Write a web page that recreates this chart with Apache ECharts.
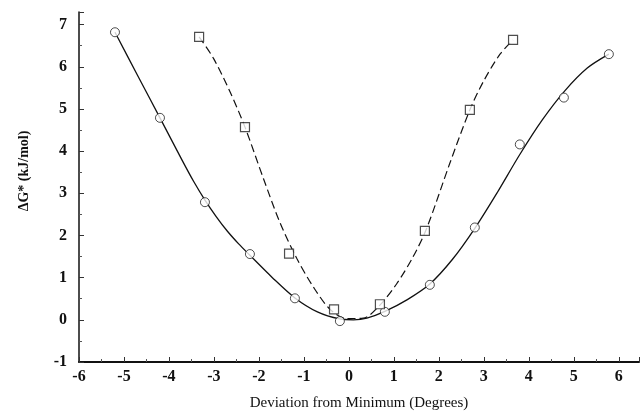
<!DOCTYPE html>
<html>
<head>
<meta charset="utf-8">
<script src="https://cdn.jsdelivr.net/npm/echarts@6/dist/echarts.min.js"></script>
<style>
  html,body{margin:0;padding:0;background:#fff;}
  #chart{width:640px;height:413px;}
</style>
</head>
<body>
<div id="chart"></div>
<script>
// measured points (open circles / open squares)
const circlePts = [[-5.2,6.82],[-4.2,4.79],[-3.2,2.79],[-2.2,1.56],[-1.2,0.51],[-0.2,-0.03],[0.8,0.19],[1.8,0.83],[2.8,2.19],[3.8,4.16],[4.78,5.27],[5.78,6.3]]
const squarePts = [[-3.33,6.71],[-2.31,4.57],[-1.33,1.57],[-0.33,0.25],[0.69,0.37],[1.69,2.11],[2.69,4.98],[3.65,6.64]]

// fitted curves
const solidCurve = [[-5.2,6.82],[-4.7,5.8],[-4.2,4.79],[-3.7,3.77],[-3.45,3.28],[-3.2,2.84],[-2.95,2.45],[-2.7,2.1],[-2.45,1.8],[-2.2,1.53],[-1.7,1.0],[-1.2,0.52],[-0.7,0.19],[-0.2,0.02],[0.1,0],[0.4,0.04],[0.8,0.2],[1.3,0.48],[1.8,0.85],[2.3,1.43],[2.8,2.17],[3.3,3.02],[3.8,3.92],[4.3,4.74],[4.8,5.43],[5.3,5.97],[5.78,6.3]]
const dashedCurve = [[-3.33,6.71],[-3.01,6.2],[-2.64,5.4],[-2.31,4.57],[-1.9,3.35],[-1.53,2.3],[-1.16,1.46],[-0.79,0.78],[-0.42,0.25],[-0.05,0.03],[0.32,0.04],[0.69,0.35],[1.06,0.85],[1.43,1.5],[1.73,2.17],[2.24,3.7],[2.69,4.98],[2.99,5.65],[3.36,6.3],[3.65,6.64]]

const xTitle = 'Deviation from Minimum (Degrees)'
const yTitle = 'ΔG* (kJ/mol)'

const serif = '"Liberation Serif", "DejaVu Serif", serif'
const intOnly = v => Number.isInteger(v) ? String(v) : ''

const myChart = echarts.init(document.getElementById('chart'))
myChart.setOption({
    animation: false,
    backgroundColor: '#fff',
    grid: {left: 79, right: 1, top: 12, bottom: 51, outerBoundsMode: 'none'},
    xAxis: {
        type: 'value',
        min: -6, max: 6.45, interval: 1,
        name: xTitle,
        nameLocation: 'middle',
        nameGap: 34,
        nameTextStyle: {fontFamily: serif, fontSize: 15, color: '#111'},
        axisLine: {onZero: false, lineStyle: {color: '#111', width: 2}},
        axisTick: {inside: true, length: 5, lineStyle: {color: '#333'}},
        minorTick: {show: true, splitNumber: 2, length: 3, lineStyle: {color: '#555'}},
        splitLine: {show: false},
        axisLabel: {formatter: intOnly, fontFamily: serif, fontSize: 16, fontWeight: 'bold', color: '#111', margin: 7}
    },
    yAxis: {
        type: 'value',
        min: -1, max: 7.3, interval: 1,
        name: yTitle,
        nameLocation: 'middle',
        nameGap: 48,
        nameTextStyle: {fontFamily: serif, fontSize: 14, fontWeight: 'bold', color: '#111', padding: [0, 0, 0, 32]},
        axisLine: {onZero: false, lineStyle: {color: '#111', width: 1.5}},
        axisTick: {inside: true, length: 5, lineStyle: {color: '#333'}},
        minorTick: {show: true, splitNumber: 2, length: 3, lineStyle: {color: '#555'}},
        splitLine: {show: false},
        axisLabel: {formatter: intOnly, fontFamily: serif, fontSize: 16, fontWeight: 'bold', color: '#111', margin: 12}
    },
    series: [
        {
            type: 'line', data: solidCurve, smooth: 0.3, showSymbol: false,
            lineStyle: {color: '#111', width: 1.3}, z: 2
        },
        {
            type: 'line', data: dashedCurve, smooth: 0.3, showSymbol: false,
            lineStyle: {color: '#111', width: 1.2, type: [8, 4]}, z: 2
        },
        {
            type: 'scatter', data: circlePts, symbol: 'circle', symbolSize: 9,
            itemStyle: {color: '#fff', borderColor: '#222', borderWidth: 1}, z: 3
        },
        {
            type: 'scatter', data: squarePts, symbol: 'rect', symbolSize: 9,
            itemStyle: {color: '#fff', borderColor: '#222', borderWidth: 1.2}, z: 3
        }
    ]
})
</script>
</body>
</html>
